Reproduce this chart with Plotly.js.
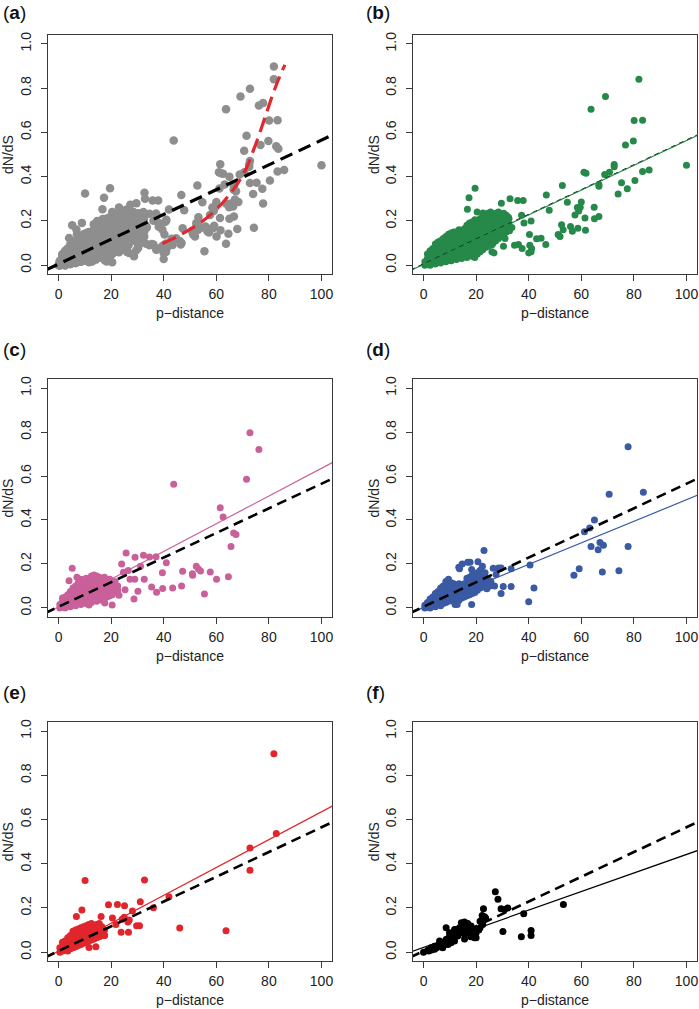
<!DOCTYPE html>
<html>
<head>
<meta charset="utf-8">
<script src="https://cdn.plot.ly/plotly-3.0.1.min.js"></script>
<style>html,body{margin:0;padding:0;background:#fff;}#chart{width:699px;height:1009px;}</style>
</head>
<body>
<div id="chart"></div>
<script>
// ---------------- data ----------------
const xTicks = [0, 20, 40, 60, 80, 100];
const yTicks = [0, 0.2, 0.4, 0.6, 0.8, 1.0];
const panelLetters = ['a', 'b', 'c', 'd', 'e', 'f'];
const xAxisLabel = 'p\u2212distance';
const yAxisLabel = 'dN/dS';

// (b) green group: scattered points
const greenPts = [[81.9,0.84],[69.2,0.762],[63.7,0.705],[80.1,0.654],[83.3,0.655],[79.8,0.561],[76.8,0.543],[100,0.451],
[72.5,0.455],[72.5,0.445],[70.7,0.42],[68.9,0.41],[61,0.42],[61.8,0.415],[66.7,0.364],[66.7,0.356],[75.3,0.372],[74,0.322],
[77.5,0.345],[80.4,0.382],[83.3,0.423],[85.8,0.43],[52.8,0.36],[46.7,0.317],[47.8,0.248],[54.7,0.284],[58.5,0.26],[59,0.245],
[60,0.285],[59.6,0.262],[64.9,0.262],[57.6,0.227],[61.4,0.213],[61.6,0.158],[65,0.21],[66.7,0.22],[52.5,0.182],[53.1,0.16],
[55.9,0.175],[56.6,0.153],[58.7,0.167],[51.2,0.138],[51.9,0.13],[43,0.119],[44.7,0.122],[46.5,0.093],[40.4,0.09],[41.1,0.075],
[40,0.055],[40.9,0.06],[37.5,0.075],[34.6,0.09],[36.1,0.093],[40.3,0.138],[38.2,0.19],[40.9,0.2],[37.3,0.226],[32.3,0.217],
[33.6,0.17],[32.7,0.155],[31,0.12],[35.8,0.292],[37.9,0.292],[32.9,0.3],[29.6,0.28],[19.6,0.347],[17.3,0.305],[16.7,0.253],
[20.4,0.24],[22.6,0.236],[26.8,0.115],[26,0.092],[26.8,0.055],[26,0.06],[30.4,0.085]];
// (b) green group: dense core, column x -> y values
const greenCore = [
[0.5,[0.0,0.015]],[1.5,[0.005,0.03,0.05]],[2.5,[0.0,0.025,0.05,0.065]],[3.5,[0.01,0.035,0.06,0.075]],
[4.5,[0.005,0.03,0.055,0.08,0.095]],[5.5,[0.015,0.04,0.065,0.09,0.105]],[6.5,[0.01,0.035,0.06,0.085,0.11]],
[7.5,[0.02,0.045,0.07,0.095,0.12]],[8.5,[0.015,0.04,0.065,0.09,0.115,0.13]],[9.5,[0.025,0.05,0.075,0.1,0.125,0.14]],
[10.5,[0.02,0.045,0.07,0.095,0.12,0.145]],[11.5,[0.03,0.055,0.08,0.105,0.13,0.15]],[12.5,[0.025,0.05,0.075,0.1,0.125,0.15]],
[13.5,[0.035,0.06,0.085,0.11,0.135,0.16]],[14.5,[0.03,0.055,0.08,0.105,0.13,0.155]],[15.5,[0.04,0.065,0.09,0.115,0.14,0.165]],
[16.5,[0.035,0.06,0.085,0.11,0.135,0.16,0.18]],[17.5,[0.045,0.07,0.095,0.12,0.145,0.17,0.19]],
[18.5,[0.04,0.065,0.09,0.115,0.14,0.165,0.195]],[19.5,[0.035,0.06,0.085,0.11,0.135,0.16,0.185,0.205]],
[20.5,[0.05,0.075,0.1,0.125,0.15,0.175,0.2]],[21.5,[0.06,0.085,0.11,0.135,0.16,0.185,0.21]],
[22.5,[0.07,0.095,0.12,0.145,0.17,0.195,0.22]],[23.5,[0.08,0.105,0.13,0.155,0.18,0.205,0.23]],
[24.5,[0.085,0.11,0.135,0.16,0.185,0.21,0.235]],[25.5,[0.095,0.12,0.145,0.17,0.195,0.22,0.24]],
[26.5,[0.1,0.125,0.15,0.175,0.2,0.225]],[27.5,[0.11,0.135,0.16,0.185,0.21,0.235]],[28.5,[0.12,0.145,0.17,0.195,0.22,0.24]],
[29.5,[0.13,0.155,0.18,0.205,0.23]],[30.5,[0.14,0.165,0.19,0.215,0.235]],[31.5,[0.15,0.175,0.2,0.225]],[32.5,[0.16,0.185,0.21]]];

// (c) pink group
const pinkPts = [[72.8,0.797],[76.2,0.721],[71.5,0.585],[43.8,0.563],[61.5,0.456],[62.6,0.413],[66.6,0.341],[67.5,0.334],
[65.6,0.279],[64.6,0.142],[57.7,0.163],[60.1,0.13],[55.5,0.063],[52.4,0.19],[53.2,0.177],[54,0.168],[50.9,0.155],[51,0.148],
[46.8,0.1],[47.2,0.167],[43.4,0.091],[39.6,0.088],[39.5,0.16],[41,0.205],[37.3,0.071],[35.4,0.095],[37.1,0.233],[34.6,0.232],
[32.3,0.24],[32.6,0.13],[30.2,0.076],[28.7,0.04],[29.1,0.23],[25.7,0.25],[31.2,0.19],[29,0.13],[24,0.2],[24.7,0.162],
[26.5,0.17],[27.2,0.13],[25.3,0.083],[23,0.058],[20.4,0.013],[11.6,0.013],[17.6,0.022],[5.2,0.18],[7,0.14],[4,0.123]];
const pinkCore = [
[0.5,[0.0,0.015]],[1.5,[0.005,0.03,0.045]],[2.5,[0.0,0.025,0.05]],[3.5,[0.01,0.035,0.06]],[4.5,[0.005,0.03,0.055,0.075]],
[5.5,[0.015,0.04,0.065,0.09]],[6.5,[0.01,0.035,0.06,0.085,0.1]],[7.5,[0.02,0.045,0.07,0.095,0.115]],
[8.5,[0.015,0.04,0.065,0.09,0.115,0.13]],[9.5,[0.025,0.05,0.075,0.1,0.125]],[10.5,[0.02,0.045,0.07,0.095,0.12,0.135]],
[11.5,[0.03,0.055,0.08,0.105,0.13]],[12.5,[0.025,0.05,0.075,0.1,0.125,0.145]],[13.5,[0.035,0.06,0.085,0.11,0.135,0.15]],
[14.5,[0.03,0.055,0.08,0.105,0.13,0.145]],[15.5,[0.04,0.065,0.09,0.115,0.14]],[16.5,[0.035,0.06,0.085,0.11,0.135]],
[17.5,[0.045,0.07,0.095,0.12,0.14]],[18.5,[0.05,0.075,0.1,0.125]],[19.5,[0.055,0.08,0.105,0.13]],
[20.5,[0.06,0.085,0.11]],[21.5,[0.07,0.095,0.12]],[22.5,[0.08,0.1]]];

// (d) blue group
const bluePts = [[77.8,0.733],[70.6,0.517],[83.6,0.526],[65,0.4],[63.2,0.364],[61.2,0.346],[67.1,0.297],[68.4,0.285],
[66.4,0.265],[63.7,0.279],[77.8,0.279],[59.2,0.178],[57.2,0.148],[68,0.163],[74.3,0.169],[40.5,0.195],[42,0.091],[40,0.028],
[33.3,0.097],[33.3,0.178],[30.3,0.097],[29.5,0.066],[29.5,0.182],[28.5,0.182],[26.5,0.18],[27,0.1],[23,0.261],[22.4,0.19],
[21.8,0.17],[23.4,0.16],[20.7,0.21],[17.7,0.208],[18.3,0.175],[14.7,0.2],[13.4,0.185],[18.3,0.016],[12,0.016],[12.8,0.016],
[25.6,0.12],[24.1,0.087],[27.6,0.152],[25.1,0.1],[16.8,0.208],[13.7,0.178]];
const blueCore = [
[0.5,[0.0,0.012]],[1.5,[0.005,0.025]],[2.5,[0.0,0.02,0.04]],[3.5,[0.01,0.03,0.05]],[4.5,[0.005,0.025,0.045,0.065]],
[5.5,[0.015,0.035,0.055,0.075]],[6.5,[0.01,0.03,0.05,0.07,0.09]],[7.5,[0.02,0.04,0.06,0.08,0.1]],
[8.5,[0.025,0.045,0.065,0.085,0.105,0.12]],[9.5,[0.03,0.05,0.07,0.09,0.11,0.13]],[10.5,[0.035,0.055,0.075,0.095,0.115]],
[11.5,[0.03,0.05,0.07,0.09,0.11]],[12.5,[0.04,0.06,0.08,0.1]],[13.5,[0.035,0.055,0.075,0.095,0.11]],
[14.5,[0.045,0.065,0.085,0.105]],[15.5,[0.05,0.07,0.09,0.11]],[16.5,[0.055,0.075,0.095,0.115,0.135]],
[17.5,[0.06,0.08,0.1,0.12,0.14]],[18.5,[0.065,0.085,0.105,0.125,0.15]],[19.5,[0.07,0.09,0.11,0.13,0.15]],
[20.5,[0.08,0.1,0.12,0.14,0.16]],[21.5,[0.09,0.11,0.13,0.15,0.17]],[22.5,[0.095,0.115,0.135,0.155]],
[23.5,[0.1,0.12,0.14]],[24.5,[0.105,0.13]]];

// (e) red group
const redPts = [[81.9,0.898],[82.8,0.537],[72.8,0.471],[72.8,0.371],[63.7,0.097],[46.1,0.109],[42,0.251],[36.1,0.201],
[32.7,0.327],[10.1,0.324],[31.1,0.228],[30.8,0.12],[29.7,0.12],[28.1,0.186],[26.4,0.136],[26.9,0.145],[26.6,0.09],
[23.8,0.09],[21.8,0.125],[20.5,0.155],[19,0.214],[22.4,0.216],[25.1,0.21],[24.2,0.149],[25,0.158],[8.9,0.191],[6.8,0.161],
[16.2,0.161],[11.6,0.0215],[14.2,0.025],[17.5,0.077]];
const redCore = [
[0.5,[0.0,0.02]],[1.5,[0.005,0.025,0.045]],[2.5,[0.01,0.03,0.05]],[3.5,[0.005,0.025,0.045,0.065]],
[4.5,[0.015,0.035,0.055,0.075]],[5.5,[0.02,0.04,0.06,0.08,0.095]],[6.5,[0.025,0.045,0.065,0.085,0.1]],
[7.5,[0.03,0.05,0.07,0.09,0.105]],[8.5,[0.035,0.055,0.075,0.095,0.11]],[9.5,[0.04,0.06,0.08,0.1,0.115]],
[10.5,[0.045,0.065,0.085,0.105,0.12]],[11.5,[0.05,0.07,0.09,0.11,0.125]],[12.5,[0.055,0.075,0.095,0.115,0.13]],
[13.5,[0.06,0.08,0.1,0.12]],[14.5,[0.065,0.085,0.105,0.125]],[15.5,[0.07,0.09,0.11,0.13]],[16.5,[0.075,0.095,0.115]],
[17.5,[0.075,0.1]]];

// (f) black group
const blackPts = [[53.2,0.216],[38.1,0.174],[37.2,0.07],[40.9,0.098],[40.9,0.075],[27.3,0.273],[28.3,0.239],[29.5,0.196],
[30.8,0.193],[32,0.2],[30.2,0.093],[22.8,0.196],[22.3,0.166],[23.2,0.16],[23.6,0.154],[21.5,0.14],[22.5,0.125],
[0,0.0],[1.6,0.009],[2.9,0.02],[4.2,0.027],[5.5,0.03],[6.7,0.039],[4.2,0.013],[7.3,0.02],[6.1,0.05],[8.6,0.057],[8.6,0.11],
[9.9,0.088],[10.5,0.065],[11.2,0.075],[12.4,0.103],[14.4,0.133],[15.6,0.136],[16.8,0.13],[18.1,0.118],[18.7,0.103],
[20,0.088],[20,0.065],[17.5,0.088],[16.2,0.095],[14.9,0.11],[13.7,0.088],[13,0.073],[11.8,0.05],[10.5,0.043],[9.3,0.035],
[8,0.035],[15.6,0.08],[18.1,0.08],[16.2,0.118],[13.7,0.11],[11.8,0.103],[19.4,0.065],[15.6,0.06],[3,0.01],[5,0.02],
[2,0.005],[7,0.045],[9,0.06],[10,0.075],[12,0.09],[19,0.095],[21,0.1],[21.5,0.11],[17,0.105],[18,0.07]];

// fitted lines [intercept, slope]
const fitAll   = [0.005, 0.0056];
const fitGreen = [0.003, 0.0056];
const fitPink  = [0.005, 0.0063];
const fitBlue  = [0.002, 0.0049];
const fitRed   = [0.005, 0.0063];
const fitBlack = [0.022, 0.0042];
const lineXs = [-5, 105];
// (a) red dashed curve (high p-distance fit)
const curveX = [39.5, 44, 48.7, 54, 58.9, 63, 66.4, 69, 71.5, 74, 76.6, 79, 81.6, 84, 86.1];
const curveY = [0.098, 0.122, 0.153, 0.192, 0.240, 0.290, 0.340, 0.385, 0.440, 0.515, 0.600, 0.685, 0.775, 0.850, 0.905];

// ---------------- build ----------------
function flat(pts, core) {
  const xs = [], ys = [];
  core.forEach(c => c[1].forEach(v => { xs.push(c[0]); ys.push(v); }));
  pts.forEach(p => { xs.push(p[0]); ys.push(p[1]); });
  return {x: xs, y: ys};
}
const G = flat(greenPts, greenCore), P = flat(pinkPts, pinkCore), B = flat(bluePts, blueCore),
      R = flat(redPts, redCore), K = flat(blackPts, []);
const ALL = {x: [].concat(G.x, P.x, B.x, R.x, K.x), y: [].concat(G.y, P.y, B.y, R.y, K.y)};

const W = 699, H = 1009;
const FONT = 'Liberation Sans, Arial, Helvetica, sans-serif';
const cols = [[48, 332], [413, 697]];
const rows = [[35, 274], [379.3, 616.7], [722.3, 961]];
const FRAME = '#3a3a3a';
const TICKSIZE = 14, TITLESIZE = 14;

function fx(px) { return px / W; }
function fy(py) { return 1 - py / H; }

const layout = {
  width: W, height: H, margin: {l: 0, r: 0, t: 0, b: 0},
  paper_bgcolor: '#fff', plot_bgcolor: '#fff', showlegend: false,
  font: {family: FONT, size: 12, color: '#222'},
  annotations: []
};
const traces = [];

for (let i = 0; i < 6; i++) {
  const c = i % 2, r = Math.floor(i / 2);
  const n = i + 1;
  const xa = 'xaxis' + (n === 1 ? '' : n), ya = 'yaxis' + (n === 1 ? '' : n);
  const xr = 'x' + (n === 1 ? '' : n), yr = 'y' + (n === 1 ? '' : n);
  layout[xa] = {
    domain: [fx(cols[c][0]), fx(cols[c][1])], anchor: yr, range: [-4, 104],
    tickvals: xTicks, ticks: 'outside', ticklen: 6, tickwidth: 1, tickcolor: FRAME,
    showline: true, mirror: true, linecolor: FRAME, linewidth: 1,
    showgrid: false, zeroline: false, ticklabelstandoff: 1,
    tickfont: {family: FONT, size: TICKSIZE, color: '#222'}
  };
  layout[ya] = {
    domain: [fy(rows[r][1]), fy(rows[r][0])], anchor: xr, range: [-0.04, 1.04],
    tickvals: yTicks, tickformat: '.1f', tickangle: -90, ticks: 'outside', ticklen: 6, tickwidth: 1, tickcolor: FRAME,
    showline: true, mirror: true, linecolor: FRAME, linewidth: 1,
    showgrid: false, zeroline: false, ticklabelstandoff: 4,
    tickfont: {family: FONT, size: TICKSIZE, color: '#222'}
  };
  // panel letter
  layout.annotations.push({
    xref: 'paper', yref: 'paper', x: fx(c === 0 ? 1 : 364), y: fy([12.5, 349.5, 692][r]),
    xanchor: 'left', yanchor: 'middle', showarrow: false,
    text: '(<b>' + panelLetters[i] + '</b>)', font: {family: FONT, size: 19, color: '#111'}
  });
  // x title
  layout.annotations.push({
    xref: 'paper', yref: 'paper', x: fx((cols[c][0] + cols[c][1]) / 2), y: fy(rows[r][1] + 39),
    xanchor: 'center', yanchor: 'middle', showarrow: false,
    text: xAxisLabel, font: {family: FONT, size: TITLESIZE, color: '#222'}
  });
  // y title
  layout.annotations.push({
    xref: 'paper', yref: 'paper', x: fx(c === 0 ? 7.5 : 373.5), y: fy((rows[r][0] + rows[r][1]) / 2),
    xanchor: 'center', yanchor: 'middle', showarrow: false, textangle: -90,
    text: yAxisLabel, font: {family: FONT, size: TITLESIZE, color: '#222'}
  });
}

function pts(d, color, size, xr, yr) {
  return {type: 'scatter', mode: 'markers', x: d.x, y: d.y, xaxis: xr, yaxis: yr, hoverinfo: 'skip',
          marker: {color: color, size: size, line: {width: 0}}};
}
function fit(f, color, width, dash, xr, yr) {
  return {type: 'scatter', mode: 'lines', x: lineXs, y: lineXs.map(v => f[0] + f[1] * v), xaxis: xr, yaxis: yr,
          hoverinfo: 'skip', line: {color: color, width: width, dash: dash}};
}

// (a)
traces.push(pts(ALL, '#8e8e8e', 8.5, 'x', 'y'));
traces.push(fit(fitAll, '#000', 3.2, '13px,7px', 'x', 'y'));
traces.push({type: 'scatter', mode: 'lines', x: curveX, y: curveY, xaxis: 'x', yaxis: 'y', hoverinfo: 'skip',
             line: {color: '#e0282e', width: 3.2, dash: '15px,7px', shape: 'spline'}});
// (b)
traces.push(pts(G, '#26894a', 7, 'x2', 'y2'));
traces.push(fit(fitAll, '#000', 1.2, '5px,4px', 'x2', 'y2'));
traces.push(fit(fitGreen, '#26894a', 1.2, 'solid', 'x2', 'y2'));
// (c)
traces.push(pts(P, '#c9609a', 7, 'x3', 'y3'));
traces.push(fit(fitPink, '#c9609a', 1.2, 'solid', 'x3', 'y3'));
traces.push(fit(fitAll, '#000', 2.6, '10px,6px', 'x3', 'y3'));
// (d)
traces.push(pts(B, '#3a5aa3', 7, 'x4', 'y4'));
traces.push(fit(fitBlue, '#3a5aa3', 1.2, 'solid', 'x4', 'y4'));
traces.push(fit(fitAll, '#000', 2.6, '10px,6px', 'x4', 'y4'));
// (e)
traces.push(pts(R, '#e0262c', 7, 'x5', 'y5'));
traces.push(fit(fitRed, '#e0262c', 1.2, 'solid', 'x5', 'y5'));
traces.push(fit(fitAll, '#000', 2.6, '10px,6px', 'x5', 'y5'));
// (f)
traces.push(pts(K, '#000', 7, 'x6', 'y6'));
traces.push(fit(fitBlack, '#000', 1.2, 'solid', 'x6', 'y6'));
traces.push(fit(fitAll, '#000', 2.6, '10px,6px', 'x6', 'y6'));

Plotly.newPlot('chart', traces, layout, {staticPlot: true, displayModeBar: false});
</script>
</body>
</html>
